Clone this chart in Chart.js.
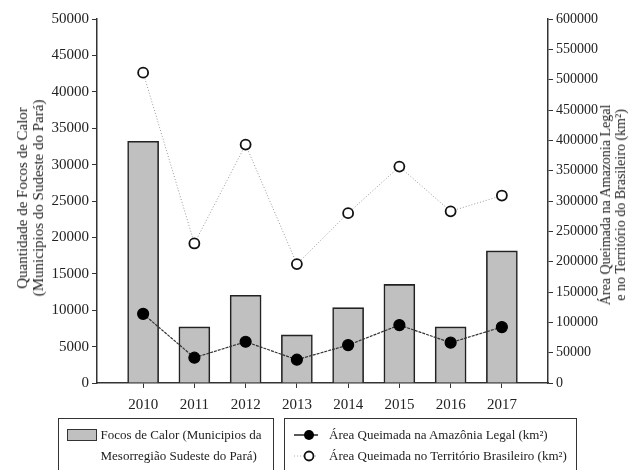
<!DOCTYPE html>
<html lang="pt">
<head>
  <meta charset="UTF-8" />
  <title>Focos de Calor x Área Queimada</title>
  <script src="https://cdn.jsdelivr.net/npm/chart.js"></script>
  <style>
    body { margin: 0; background: #fff; font-family: "Liberation Serif", serif; color: #222; }
    .janela { position: relative; width: 638px; height: 470px; overflow: hidden; }
    #grafico { position: absolute; left: 0; top: 0; }
    .titulo { position: absolute; font-size: 15px; line-height: 16px; text-align: center; white-space: nowrap;
              transform: translate(-50%, -50%) rotate(-90deg); }
    .caixa { position: absolute; top: 418px; height: 70px; border: 1.5px solid #333; box-sizing: border-box;
             font-size: 13px; line-height: 21px; white-space: nowrap; }
    .linha { display: flex; align-items: center; }
    .amostra { width: 28px; height: 10px; background: #c0c0c0; border: 1px solid #333; margin-right: 4px; }
  </style>
</head>
<body>
  <div class="janela">
    <canvas id="grafico" width="638" height="470"></canvas>

    <div class="titulo" style="left:30px; top:198px;">Quantidade de Focos de Calor<br>(Municipios do Sudeste do Pará)</div>
    <div class="titulo" style="left:613px; top:205px; font-size:14px; line-height:15px;">Área Queimada na Amazonia Legal<br>e no Território do Brasileiro (km²)</div>

    <div class="caixa" style="left:58px; width:216px; padding:5px 0 0 7.5px;">
      <div class="linha"><div class="amostra"></div><span>Focos de Calor (Municipios da</span></div>
      <div style="padding-left:34px;">Mesorregião Sudeste do Pará)</div>
    </div>

    <div class="caixa" style="left:284px; width:293px; padding:5px 0 0 9px;">
      <div class="linha">
        <svg width="26" height="14" style="margin-right:9px"><line x1="0" y1="7" x2="24" y2="7" stroke="#222" stroke-width="1.5"/><circle cx="15" cy="7" r="5" fill="#000"/></svg>
        <span>Área Queimada na Amazônia Legal (km²)</span>
      </div>
      <div class="linha">
        <svg width="26" height="14" style="margin-right:9px"><line x1="0" y1="7" x2="24" y2="7" stroke="#aaa" stroke-width="1" stroke-dasharray="1,2"/><circle cx="15" cy="7" r="4.5" fill="#fff" stroke="#111" stroke-width="1.8"/></svg>
        <span>Área Queimada no Território Brasileiro (km²)</span>
      </div>
    </div>
  </div>

<script>
// dados
var anos = [2010, 2011, 2012, 2013, 2014, 2015, 2016, 2017];
var focosCalor = [33200, 7700, 12050, 6600, 10350, 13550, 7700, 18150];
var areaAmazonia = [114000, 41700, 68000, 38400, 62500, 95500, 66500, 92200];
var areaBrasil = [511600, 230000, 393000, 196000, 280000, 356700, 283000, 309000];
var ticksEsquerda = [0, 5000, 10000, 15000, 20000, 25000, 30000, 35000, 40000, 45000, 50000];
var ticksDireita = [0, 50000, 100000, 150000, 200000, 250000, 300000, 350000, 400000, 450000, 500000, 550000, 600000];

function pontos(valores) {
  var lista = [];
  for (let i = 0; i < anos.length; i++) {
    lista.push({ x: anos[i], y: valores[i] });
  }
  return lista;
}

function fixarTicks(valores) {
  return function (scale) {
    scale.ticks = valores.map(function (v) { return { value: v }; });
  };
}

function semVirgula(v) { return String(v); }

var fonte = { family: 'Liberation Serif', size: 15 };

const config = {
  type: 'bar',
  data: {
    datasets: [
      {
        type: 'line',
        label: 'Área Queimada na Amazônia Legal (km²)',
        data: pontos(areaAmazonia),
        yAxisID: 'y2',
        borderColor: '#333',
        borderWidth: 1.2,
        borderDash: [3, 1],
        pointRadius: 5.5,
        pointBackgroundColor: '#000',
        pointBorderColor: '#000',
        order: 1
      },
      {
        type: 'line',
        label: 'Área Queimada no Território Brasileiro (km²)',
        data: pontos(areaBrasil),
        yAxisID: 'y2',
        borderColor: '#999',
        borderWidth: 1,
        borderDash: [1, 2],
        pointRadius: 5,
        pointBackgroundColor: '#fff',
        pointBorderColor: '#111',
        pointBorderWidth: 1.8,
        order: 2
      },
      {
        label: 'Focos de Calor (Municipios da Mesorregião Sudeste do Pará)',
        data: pontos(focosCalor),
        yAxisID: 'y',
        backgroundColor: '#c0c0c0',
        borderColor: '#222',
        borderWidth: 1.6,
        barThickness: 31,
        order: 3
      }
    ]
  },
  options: {
    responsive: false,
    animation: false,
    layout: { padding: { top: 19, left: 0, right: 0, bottom: 0 } },
    plugins: {
      legend: { display: false },
      tooltip: { enabled: false }
    },
    scales: {
      x: {
        type: 'linear',
        offset: false,
        min: 2009.1,
        max: 2017.9,
        afterBuildTicks: fixarTicks(anos),
        afterFit: function (scale) { scale.height = 87; },
        ticks: { color: '#222', font: fonte, padding: 8, callback: semVirgula },
        grid: { offset: false, drawOnChartArea: false, drawTicks: true, tickLength: 5, color: '#333' },
        border: { display: true, color: '#333', width: 1.5 }
      },
      y: {
        position: 'left',
        min: 0,
        max: 50000,
        afterBuildTicks: fixarTicks(ticksEsquerda),
        afterFit: function (scale) { scale.width = 97; },
        ticks: { color: '#222', font: fonte, padding: 3, callback: semVirgula },
        grid: { drawOnChartArea: false, drawTicks: true, tickLength: 5, color: '#333' },
        border: { display: true, color: '#333', width: 1.5 }
      },
      y2: {
        position: 'right',
        min: 0,
        max: 600000,
        afterBuildTicks: fixarTicks(ticksDireita),
        afterFit: function (scale) { scale.width = 90; },
        ticks: { color: '#222', font: { family: 'Liberation Serif', size: 14 }, padding: 3, callback: semVirgula },
        grid: { drawOnChartArea: false, drawTicks: true, tickLength: 5, color: '#333' },
        border: { display: true, color: '#333', width: 1.5 }
      }
    }
  }
};

const grafico = new Chart(document.getElementById('grafico'), config);
</script>
</body>
</html>
